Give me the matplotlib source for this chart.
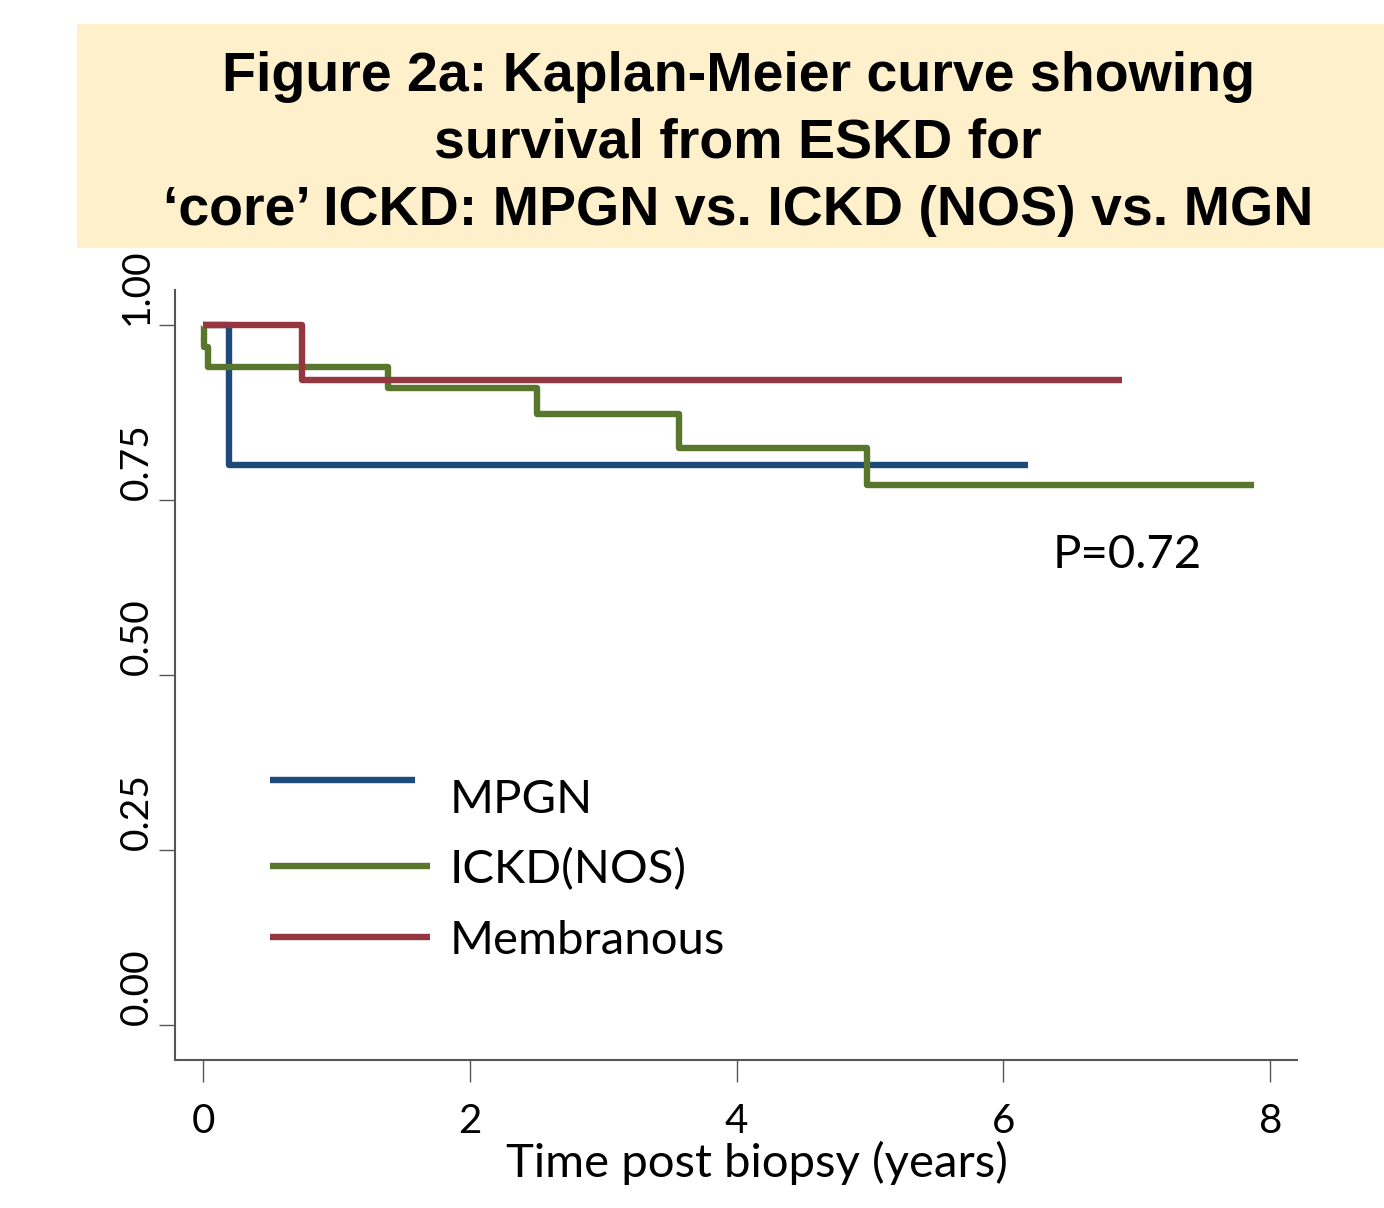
import matplotlib.pyplot as plt
from matplotlib.patches import Rectangle

# Kaplan-Meier step data
mpgn_t = [0.0, 0.195, 6.18]
mpgn_s = [1.0, 0.80, 0.80]

ickd_t = [0.0, 0.005, 0.04, 1.39, 2.50, 3.57, 4.98, 7.88]
ickd_s = [1.0, 0.969, 0.940, 0.910, 0.873, 0.824, 0.771, 0.771]

mgn_t = [0.0, 0.745, 6.89]
mgn_s = [1.0, 0.921, 0.921]

series_names = ["MPGN", "ICKD(NOS)", "Membranous"]
series_colors = ["#1d4a78", "#58772c", "#953641"]

x_ticks = [0, 2, 4, 6, 8]
y_ticks = [0.0, 0.25, 0.5, 0.75, 1.0]
y_ticklabels = ["0.00", "0.25", "0.50", "0.75", "1.00"]

title_lines = ["Figure 2a: Kaplan-Meier curve showing",
               "survival from ESKD for",
               "\u2018core\u2019 ICKD: MPGN vs. ICKD (NOS) vs. MGN"]
p_text = "P=0.72"

W, H = 1384, 1208
fig = plt.figure(figsize=(W / 100, H / 100), dpi=100)

# title box
fig.patches.append(Rectangle((77 / W, 1 - 248 / H), (W - 77) / W, 224 / H,
                             transform=fig.transFigure, facecolor="#fff0cc",
                             edgecolor="none", zorder=0))
for line, base in zip(title_lines, [91, 158, 225]):
    fig.text(738 / W, 1 - base / H, line, ha="center", va="baseline",
             fontsize=40, fontweight="bold", family="Liberation Sans")

ax = fig.add_axes([175 / W, 1 - 1060 / H, (1297 - 175) / W, (1060 - 290) / H])
ax.set_xlim(-0.21, 8.20)
ax.set_ylim(-0.05, 1.05)

lw = 4.6
for t, s, c in zip([mpgn_t, ickd_t, mgn_t], [mpgn_s, ickd_s, mgn_s], series_colors):
    ax.step(t, s, where="post", color=c, lw=lw, solid_joinstyle="round",
            solid_capstyle="butt")

# hand-placed legend like the original
font = "Lato"
leg_lines = [(0.0847, 0.2139, 0.3636), (0.0847, 0.2273, 0.2519), (0.0847, 0.2273, 0.1597)]
leg_text_y = [0.3377, 0.2468, 0.1545]
for (x0, x1, y), ty, name, c in zip(leg_lines, leg_text_y, series_names, series_colors):
    ax.plot([x0, x1], [y, y], transform=ax.transAxes, color=c, lw=lw,
            solid_capstyle="butt")
    ax.text(0.245, ty, name, transform=ax.transAxes, ha="left", va="center",
            fontsize=34, family=font)

ax.text(6.37, 0.671, p_text, ha="left", va="center", fontsize=34, family=font)

for side in ["top", "right"]:
    ax.spines[side].set_visible(False)
for side in ["left", "bottom"]:
    ax.spines[side].set_color("#555555")
    ax.spines[side].set_linewidth(1.5)

ax.set_xticks(x_ticks)
ax.set_xticklabels([str(v) for v in x_ticks], fontsize=29, family=font)
ax.set_yticks(y_ticks)
ax.set_yticklabels(y_ticklabels, fontsize=28, family=font, rotation=90, va="bottom")
ax.tick_params(axis="x", length=16, width=1.0, color="#555555", pad=15)
ax.tick_params(axis="y", length=11.5, width=1.0, color="#555555", pad=3)
ax.set_xlabel("Time post biopsy (years)", fontsize=34, family=font)
ax.xaxis.set_label_coords(0.5187, -0.105)

fig.savefig("out.png", dpi=100)
